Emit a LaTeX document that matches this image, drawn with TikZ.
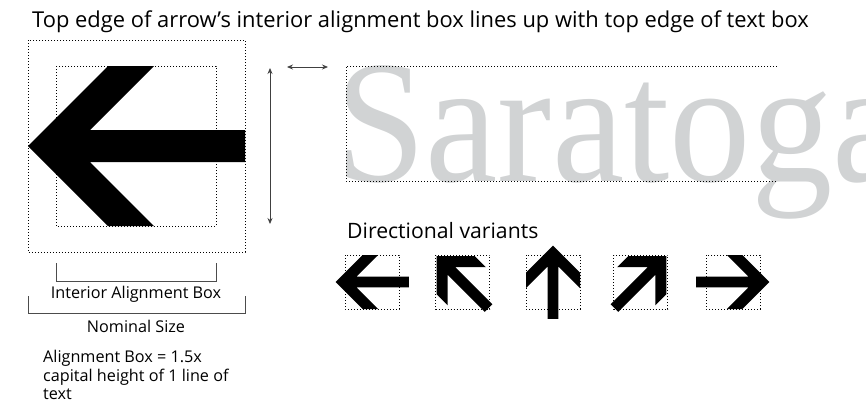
\documentclass[tikz,border=0pt]{standalone}
\usepackage{fontspec}
\setsansfont{Open Sans}
\newfontfamily\sarafont{Liberation Serif}
\usetikzlibrary{arrows.meta}

\definecolor{saragrey}{RGB}{209,211,212}

\tikzset{
  dotbox/.style={draw=black, line width=0.8pt, dash pattern=on 0.8pt off 2.2pt},
  dimline/.style={draw=black!75, line width=0.8pt, {Stealth[length=6pt,width=5pt]}-{Stealth[length=6pt,width=5pt]}},
  bracket/.style={draw=black!70, line width=0.8pt},
  notetext/.style={font=\sffamily\fontsize{16.2}{18.5}\selectfont, inner sep=0pt},
  heading/.style={font=\sffamily\fontsize{21.9}{24}\selectfont, inner sep=0pt, anchor=base west},
  signarrow/.pic={
    \fill[black] (-108,0) -- (-28,-80) -- (18,-80) -- (-46,-16) -- (109,-16) -- (109,16)
      -- (-46,16) -- (18,80) -- (-28,80) -- cycle;
  }
}

\begin{document}
\begin{tikzpicture}[x=1pt,y=-1pt]
\useasboundingbox (0,0) rectangle (866,402);

% Text Node
\node[heading] (title) at (32,27.5) {Top edge of arrow{\char39}s interior alignment box lines up with top edge of text box};

%Shape: nominal arrow
\coordinate (mid) at (136,146);
\pic (bigarrow) at (mid) {signarrow};
%Shape: Rectangle (nominal size)
\draw[dotbox] (28,40) rectangle (245,252);
%Shape: Rectangle (interior alignment box)
\draw[dotbox] (56,66) rectangle (216,226);

%Straight Lines (brackets)
\draw[bracket] (56,263) -- (56,281) -- (216,281) -- (216,263);
\draw[bracket] (28,296) -- (28,313) -- (245,313) -- (245,296);

% Text Node
\node[notetext, anchor=base] (interior) at (136,298) {Interior Alignment Box};
% Text Node
\node[notetext, anchor=base] (nominal) at (136,332) {Nominal Size};
% Text Node
\node[notetext, anchor=north west, align=left] (capnote) at (43,350) {Alignment Box = 1.5x\\capital height of 1 line of\\text};

%Straight Lines (dimensions)
\coordinate (vtop) at (270,68);
\coordinate (vbot) at (270,224);
\draw[dimline] (vtop) -- (vbot);
\coordinate (gapl) at (287,67);
\coordinate (gapr) at (328,67);
\draw[dimline] (gapl) -- (gapr);

% Text Node
\node[anchor=base west, inner sep=0pt, text=saragrey, font=\sarafont\fontsize{175}{175}\selectfont, xscale=0.93, transform shape] (sample) at (335,181) {Saratoga};
%Shape: text box
\draw[dotbox] (777,66) -- (346,66) -- (346,181) -- (777,181);

% Text Node
\node[heading, font=\sffamily\fontsize{21.2}{24}\selectfont] (variants) at (347,238) {Directional variants};

%Shape: directional variants
\foreach \cx/\ang in {372/0, 462.5/-45, 553/-90, 640.5/-135, 733/180} {
  \pic[scale=0.3375, rotate=\ang] at (\cx,282) {signarrow};
  \draw[dotbox] (\cx-27,255) rectangle (\cx+27,309);
}

\end{tikzpicture}
\end{document}
